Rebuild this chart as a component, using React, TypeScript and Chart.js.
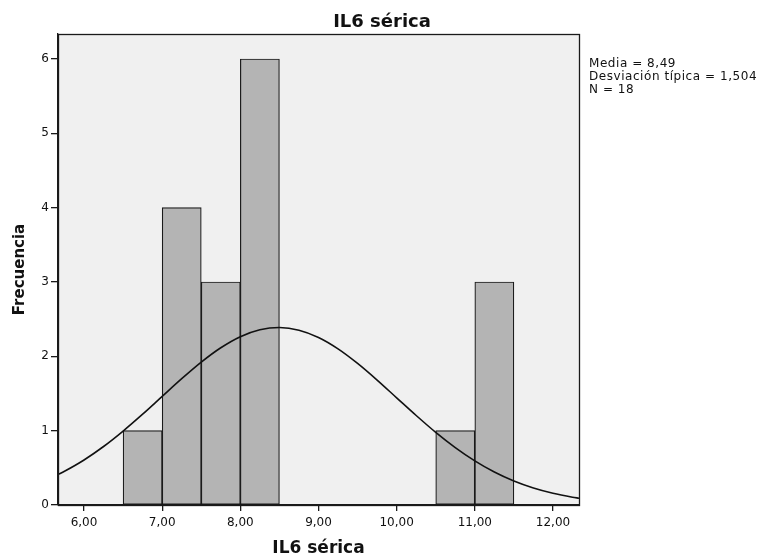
import React, { useEffect, useRef } from 'react';
import { Chart, registerables } from 'chart.js';

Chart.register(...registerables);

// ---- Data ----
const chartTitle = 'IL6 sérica';
const xAxisTitle = 'IL6 sérica';
const yAxisTitle = 'Frecuencia';

// histogram bins (centre of each 0,5-wide bin) and counts
const binCenters = [6.75, 7.25, 7.75, 8.25, 10.75, 11.25];
const binCounts = [1, 4, 3, 6, 1, 3];

// fitted normal curve
const curveX = [5.667, 5.75, 6.0, 6.25, 6.5, 6.75, 7.0, 7.25, 7.5, 7.75, 8.0, 8.25, 8.5, 8.75, 9.0, 9.25, 9.5, 9.75, 10.0, 10.25, 10.5, 10.75, 11.0, 11.25, 11.5, 11.75, 12.0, 12.25, 12.333];
const curveY = [0.41, 0.454, 0.606, 0.787, 0.995, 1.222, 1.461, 1.699, 1.922, 2.115, 2.264, 2.357, 2.387, 2.352, 2.254, 2.101, 1.905, 1.681, 1.442, 1.204, 0.977, 0.772, 0.593, 0.443, 0.322, 0.228, 0.157, 0.105, 0.091];

const xTickValues = [6, 7, 8, 9, 10, 11, 12];
const yTickValues = [0, 1, 2, 3, 4, 5, 6];
const xMin = 5.667;
const xMax = 12.333;
const yMin = 0;
const yMax = 6.336;

const statsLines = ['Media = 8,49', 'Desviación típica = 1,504', 'N = 18'];

const fmtX = (v: number) => v.toFixed(2).replace('.', ',');

export default function App() {
  const ref = useRef<HTMLCanvasElement>(null);

  useEffect(() => {
    const canvas = ref.current;
    if (!canvas) return;

    const framePlugin = {
      id: 'spssFrame',
      beforeDraw(chart: any) {
        const { ctx, chartArea: a } = chart;
        ctx.save();
        ctx.fillStyle = '#f0f0f0';
        ctx.fillRect(a.left, a.top, a.right - a.left, a.bottom - a.top);
        ctx.restore();
      },
      afterDraw(chart: any) {
        const { ctx, chartArea: a } = chart;
        ctx.save();
        ctx.strokeStyle = '#1a1a1a';
        ctx.lineWidth = 1.3;
        ctx.strokeRect(Math.round(a.left) + 0.5, Math.round(a.top) + 0.5, Math.round(a.right - a.left), Math.round(a.bottom - a.top));
        ctx.fillStyle = '#111';
        ctx.font = 'bold 18px "DejaVu Sans"';
        ctx.textAlign = 'center';
        ctx.textBaseline = 'alphabetic';
        ctx.fillText(chartTitle, chart.width / 2, 27);
        ctx.font = '12px "DejaVu Sans"';
        (ctx as any).letterSpacing = '0.55px';
        ctx.textAlign = 'left';
        statsLines.forEach((t, i) => ctx.fillText(t, 589, 67 + i * 13));
        ctx.restore();
      },
    };

    const chart = new Chart(canvas, {
      type: 'bar',
      data: {
        datasets: [
          {
            type: 'line',
            data: curveX.map((x, i) => ({ x, y: curveY[i] })),
            borderColor: '#111',
            borderWidth: 1.6,
            pointRadius: 0,
            fill: false,
            cubicInterpolationMode: 'monotone',
            order: 0,
          } as any,
          {
            type: 'bar',
            data: binCenters.map((x, i) => ({ x, y: binCounts[i] })),
            backgroundColor: '#b4b4b4',
            borderColor: '#1a1a1a',
            borderWidth: 1.2,
            borderSkipped: false,
            barPercentage: 1,
            categoryPercentage: 1,
            grouped: false,
            order: 1,
          } as any,
        ],
      },
      options: {
        responsive: false,
        animation: false,
        devicePixelRatio: 1,
        layout: { padding: { top: 34, right: 185, bottom: 0, left: 0 } },
        plugins: {
          legend: { display: false },
          tooltip: { enabled: false },
          title: { display: false },
        },
        scales: {
          x: {
            type: 'linear',
            min: xMin,
            max: xMax,
            offset: false,
            grid: { display: true, drawOnChartArea: false, drawTicks: true, tickLength: 6, color: '#1a1a1a', lineWidth: 1.3, offset: false },
            border: { display: true, color: '#1a1a1a', width: 1.3 },
            ticks: {
              font: { family: 'DejaVu Sans', size: 12 },
              color: '#111',
              padding: 5,
              maxRotation: 0,
              autoSkip: false,
              callback: (v: any) => fmtX(Number(v)),
            },
            title: {
              display: true,
              text: xAxisTitle,
              color: '#111',
              font: { family: 'DejaVu Sans', size: 17, weight: 'bold' },
              padding: { top: 0, bottom: 0 },
            },
            afterBuildTicks: (s: any) => {
              s.ticks = xTickValues.map((v) => ({ value: v }));
            },
            afterFit: (s: any) => {
              s.height = 54;
            },
          },
          y: {
            type: 'linear',
            min: yMin,
            max: yMax,
            grid: { display: true, drawOnChartArea: false, drawTicks: true, tickLength: 7, color: '#1a1a1a', lineWidth: 1.3 },
            border: { display: true, color: '#1a1a1a', width: 1.3 },
            ticks: {
              font: { family: 'DejaVu Sans', size: 12 },
              color: '#111',
              padding: 2,
              callback: (v: any) => String(v),
            },
            title: {
              display: true,
              text: yAxisTitle,
              color: '#111',
              font: { family: 'DejaVu Sans', size: 15, weight: 'bold' },
              padding: { top: 11, bottom: 11 },
            },
            afterBuildTicks: (s: any) => {
              s.ticks = yTickValues.map((v) => ({ value: v }));
            },
            afterFit: (s: any) => {
              s.width = 58;
            },
          },
        },
      } as any,
      plugins: [framePlugin],
    });

    return () => chart.destroy();
  }, []);

  return (
    <div style={{ position: 'fixed', left: 0, top: 0, width: 764, height: 559, background: '#fff' }}>
      <canvas ref={ref} width={764} height={559} style={{ display: 'block' }} />
    </div>
  );
}
